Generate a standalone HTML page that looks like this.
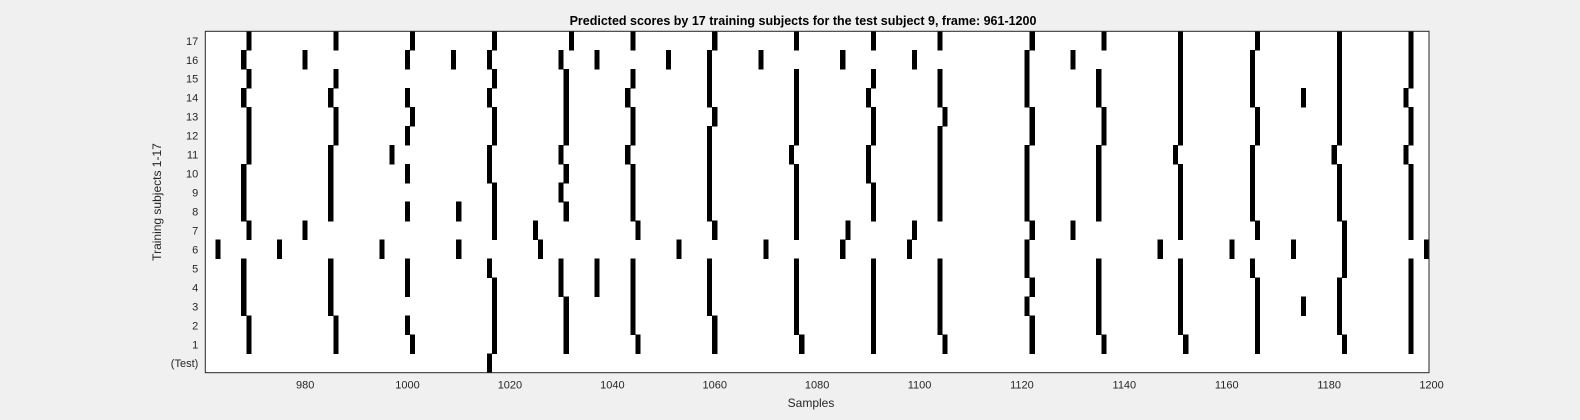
<!DOCTYPE html>
<html><head><meta charset="utf-8"><style>
html,body{margin:0;padding:0;background:#f0f0f0;}
svg{display:block;font-family:"Liberation Sans",Arial,sans-serif;}
</style></head><body>
<svg id="chart" width="1580" height="420" viewBox="0 0 1580 420" xmlns="http://www.w3.org/2000/svg">
<rect x="0" y="0" width="1580" height="420" fill="#f0f0f0"/>
<text x="803" y="25" text-anchor="middle" font-size="12.5" font-weight="bold" fill="#000">Predicted scores by 17 training subjects for the test subject 9, frame: 961-1200</text>
<rect x="205.3" y="31.3" width="1223.7" height="341.4" fill="#fff"/>
<g id="marks" shape-rendering="crispEdges"></g>
<g id="axes"></g>
<rect x="205.3" y="31.3" width="1223.7" height="341.4" fill="none" stroke="#262626" stroke-width="1"/>
<text x="811" y="407" text-anchor="middle" font-size="12" fill="#262626">Samples</text>
<text transform="translate(161,202) rotate(-90)" text-anchor="middle" font-size="12" fill="#262626">Training subjects 1-17</text>
</svg>
<script>
const rowLabels = ["(Test)","1","2","3","4","5","6","7","8","9","10","11","12","13","14","15","16","17"];
const xTicks = [980,1000,1020,1040,1060,1080,1100,1120,1140,1160,1180,1200];
const rowTest = [1016];
const row1 = [969,986,1001,1017,1031,1045,1060,1077,1091,1105,1122,1136,1152,1166,1183,1196];
const row2 = [969,986,1000,1017,1031,1044,1060,1076,1091,1104,1122,1135,1151,1166,1182,1196];
const row3 = [968,985,1017,1031,1044,1059,1076,1091,1104,1121,1135,1151,1166,1175,1182,1196];
const row4 = [968,985,1000,1017,1030,1037,1044,1059,1076,1091,1104,1122,1135,1151,1166,1182,1196];
const row5 = [968,985,1000,1016,1030,1037,1044,1059,1076,1091,1104,1121,1135,1151,1165,1183,1196];
const row6 = [963,975,995,1010,1026,1053,1070,1085,1098,1121,1147,1161,1173,1183,1199];
const row7 = [969,980,1017,1025,1045,1060,1076,1086,1099,1122,1130,1151,1166,1183,1196];
const row8 = [968,985,1000,1010,1017,1031,1044,1059,1076,1091,1104,1121,1135,1151,1165,1182,1196];
const row9 = [968,985,1017,1030,1044,1059,1076,1091,1104,1121,1135,1151,1165,1182,1196];
const row10 = [968,985,1000,1016,1031,1044,1059,1076,1090,1104,1121,1135,1151,1165,1182,1196];
const row11 = [969,985,997,1016,1030,1043,1059,1075,1090,1104,1121,1135,1150,1165,1181,1195];
const row12 = [969,986,1000,1017,1031,1044,1059,1076,1091,1104,1122,1136,1151,1166,1182,1196];
const row13 = [969,986,1001,1017,1031,1044,1060,1076,1091,1105,1122,1136,1151,1166,1182,1196];
const row14 = [968,985,1000,1016,1031,1043,1059,1076,1090,1104,1121,1135,1151,1165,1175,1182,1195];
const row15 = [969,986,1017,1031,1044,1059,1076,1091,1104,1121,1135,1151,1165,1182,1196];
const row16 = [968,980,1000,1009,1016,1030,1037,1051,1059,1069,1085,1099,1121,1130,1151,1165,1182,1196];
const row17 = [969,986,1001,1017,1032,1044,1060,1076,1091,1104,1122,1136,1151,1166,1182,1196];
const rows = [rowTest,row1,row2,row3,row4,row5,row6,row7,row8,row9,row10,row11,row12,row13,row14,row15,row16,row17];

const NS = "http://www.w3.org/2000/svg";
const L = 205.3, R = 1429, T = 31.3, B = 372.7;
const xMin = 960.5, xMax = 1199.5;
const X = v => L + (v - xMin) / (xMax - xMin) * (R - L);
const rowH = (B - T) / rows.length;
const Y = r => B - (r + 1) * rowH;

const marks = document.getElementById('marks');
rows.forEach((vals, r) => {
  vals.forEach(v => {
    const el = document.createElementNS(NS, 'rect');
    el.setAttribute('x', X(v - 0.5));
    el.setAttribute('y', Y(r) - 0.3);
    el.setAttribute('width', X(v + 0.5) - X(v - 0.5));
    el.setAttribute('height', rowH + 0.6);
    el.setAttribute('fill', '#000');
    
    
    marks.appendChild(el);
  });
});

const axes = document.getElementById('axes');
xTicks.forEach(t => {
  const x = X(t);
  const tx = document.createElementNS(NS, 'text');
  tx.setAttribute('x', x); tx.setAttribute('y', B + 16);
  tx.setAttribute('text-anchor', 'middle');
  tx.setAttribute('font-size', '11');
  tx.setAttribute('fill', '#262626');
  tx.textContent = t;
  
  
  axes.appendChild(tx);
});
rowLabels.forEach((lab, r) => {
  const y = Y(r) + rowH / 2;
  const tx = document.createElementNS(NS, 'text');
  tx.setAttribute('x', L - 7); tx.setAttribute('y', y + 4);
  tx.setAttribute('text-anchor', 'end');
  tx.setAttribute('font-size', '11');
  tx.setAttribute('fill', '#262626');
  tx.textContent = lab;
  
  
  axes.appendChild(tx);
});
</script>
</body></html>
